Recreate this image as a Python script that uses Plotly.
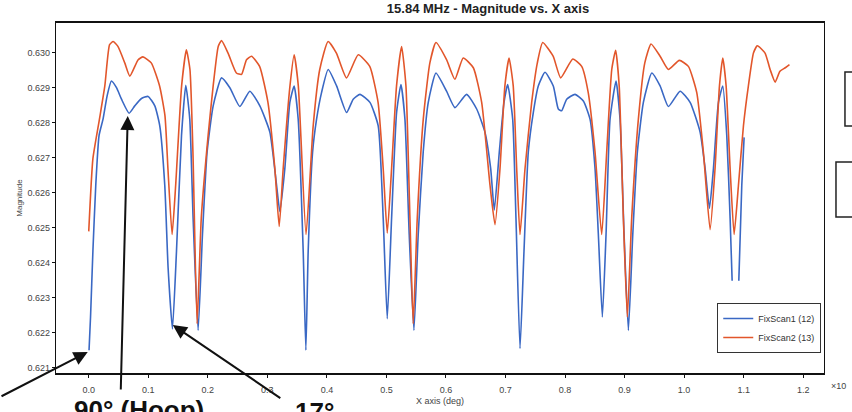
import plotly.graph_objects as go

# ---------------- data ----------------
scan1_name = "FixScan1 (12)"
scan2_name = "FixScan2 (13)"

scan1_x = [
    0.0005, 0.003, 0.007, 0.0118, 0.0173, 0.024, 0.0308, 0.038, 0.0466, 0.055,
    0.0678, 0.0773, 0.0886, 0.0997, 0.111, 0.1193, 0.1277, 0.1333, 0.1406, 0.1474,
    0.1558, 0.163, 0.1697, 0.1753, 0.1837, 0.191, 0.1988, 0.209, 0.223, 0.237,
    0.2538, 0.2706, 0.2874, 0.3042, 0.3155, 0.321, 0.3294, 0.3378, 0.345, 0.3518,
    0.3602, 0.3647, 0.3686, 0.376, 0.3827, 0.391, 0.4022, 0.4163, 0.4331, 0.4442,
    0.4555, 0.4723, 0.4862, 0.4946, 0.5014, 0.5087, 0.5171, 0.5244, 0.5311, 0.5383,
    0.5462, 0.5534, 0.5618, 0.5703, 0.5832, 0.601, 0.6151, 0.6347, 0.6516, 0.6655,
    0.6751, 0.6812, 0.6896, 0.6975, 0.7037, 0.7121, 0.7176, 0.7244, 0.7311, 0.7383,
    0.7467, 0.7551, 0.7664, 0.7803, 0.7887, 0.7944, 0.8028, 0.8168, 0.8308, 0.842,
    0.8504, 0.856, 0.8627, 0.8689, 0.8756, 0.8857, 0.8924, 0.8992, 0.9064, 0.9138,
    0.9215, 0.9316, 0.9457, 0.9597, 0.9736, 0.9933, 1.0101, 1.0269, 1.0353, 1.0426,
    1.0493, 1.0577, 1.065, 1.0717, 1.0773, 1.0807, 1.082, 1.0845, 1.0846, 1.086, 1.0919,
    1.0969, 1.1008,
]
scan1_y = [
    0.62149, 0.62244, 0.62433, 0.62621, 0.62763, 0.6281, 0.62876, 0.62919, 0.629, 0.62867,
    0.62827, 0.62848, 0.62869, 0.62875, 0.62848, 0.62791, 0.62621, 0.62385, 0.6221, 0.62433,
    0.62763, 0.62907, 0.6281, 0.62527, 0.62206, 0.6248, 0.62716, 0.62848, 0.62928, 0.629,
    0.62846, 0.6289, 0.62848, 0.62773, 0.62621, 0.62546, 0.62669, 0.62858, 0.62905, 0.6281,
    0.62433, 0.62149, 0.62433, 0.62716, 0.6281, 0.62886, 0.62952, 0.62905, 0.62829, 0.62867,
    0.62881, 0.62858, 0.62791, 0.62527, 0.62239, 0.62527, 0.62829, 0.62909, 0.6281, 0.6248,
    0.62206, 0.6248, 0.62716, 0.62858, 0.62942, 0.6289, 0.62843, 0.62881, 0.62839, 0.62773,
    0.62669, 0.6255, 0.62716, 0.62858, 0.62909, 0.6281, 0.62527, 0.62154, 0.62433, 0.62716,
    0.62829, 0.62905, 0.62944, 0.62905, 0.62839, 0.62834, 0.62867, 0.62881, 0.62862, 0.6281,
    0.62669, 0.6248, 0.62244, 0.6248, 0.6281, 0.62919, 0.6281, 0.6248, 0.62206, 0.6248,
    0.62716, 0.62858, 0.62942, 0.62905, 0.62846, 0.6289, 0.62858, 0.62773, 0.62669, 0.62555,
    0.62669, 0.62858, 0.62905, 0.62763, 0.62527, 0.62348, None, 0.62168, 0.6215, None, 0.62348,
    0.62621, 0.62758,
]

scan2_x = [
    0.000, 0.007, 0.018, 0.027, 0.035, 0.041, 0.049, 0.0605, 0.069, 0.083,
    0.091, 0.105, 0.119, 0.128, 0.133, 0.140, 0.146, 0.156, 0.164, 0.170,
    0.175, 0.182, 0.189, 0.2005, 0.209, 0.2175, 0.223, 0.234, 0.248, 0.2566,
    0.265, 0.2734, 0.287, 0.301, 0.3126, 0.3199, 0.3266, 0.338, 0.345, 0.352,
    0.365, 0.377, 0.388, 0.402, 0.416, 0.433, 0.4526, 0.472, 0.486, 0.4946,
    0.5014, 0.5087, 0.517, 0.5255, 0.5328, 0.5395, 0.545, 0.5518, 0.5619, 0.573,
    0.5832, 0.601, 0.615, 0.629, 0.646, 0.660, 0.674, 0.6824, 0.6908, 0.699,
    0.706, 0.713, 0.7188, 0.7244, 0.7328, 0.744, 0.7535, 0.7625, 0.780, 0.7927,
    0.813, 0.828, 0.839, 0.8504, 0.8616, 0.870, 0.8785, 0.885, 0.891, 0.898,
    0.9047, 0.912, 0.9232, 0.934, 0.9445, 0.9597, 0.9736, 0.992, 1.0072, 1.0213,
    1.0324, 1.0437, 1.052, 1.0594, 1.065, 1.0706, 1.0773, 1.084, 1.0913, 1.0997,
    1.108, 1.1165, 1.123, 1.136, 1.1445, 1.153, 1.161, 1.170, 1.177,
]
scan2_y = [
    0.62489, 0.62697, 0.6281, 0.62905, 0.63023, 0.63032, 0.63018, 0.62971, 0.62933, 0.6298,
    0.62988, 0.62971, 0.62905, 0.6282, 0.62669, 0.6248, 0.62621, 0.62905, 0.63008, 0.62952,
    0.62716, 0.62225, 0.62527, 0.62763, 0.62905, 0.63018, 0.63035, 0.62999, 0.62942, 0.62938,
    0.6298, 0.6299, 0.62961, 0.62858, 0.62669, 0.62503, 0.62669, 0.62905, 0.62994, 0.62905,
    0.6248, 0.62791, 0.62952, 0.63032, 0.62999, 0.62928, 0.62994, 0.62961, 0.62858, 0.62669,
    0.62484, 0.62669, 0.62905, 0.63018, 0.62905, 0.62527, 0.62225, 0.62527, 0.6281, 0.62971,
    0.63029, 0.6298, 0.62924, 0.62985, 0.62957, 0.62858, 0.62621, 0.62508, 0.62669, 0.62905,
    0.62985, 0.62905, 0.62669, 0.6248, 0.62669, 0.62858, 0.62971, 0.63029, 0.6299, 0.62928,
    0.62982, 0.62961, 0.62886, 0.62716, 0.6248, 0.62716, 0.62952, 0.63007, 0.62905, 0.62527,
    0.62244, 0.62527, 0.6281, 0.62971, 0.63025, 0.6299, 0.62952, 0.62978, 0.62961, 0.62886,
    0.62716, 0.62494, 0.62669, 0.62905, 0.62985, 0.62905, 0.62669, 0.6248, 0.62621, 0.62791,
    0.62905, 0.62999, 0.6302, 0.62999, 0.62952, 0.62916, 0.62947, 0.62957, 0.62966,
]

x_tick_vals = [0.0, 0.1, 0.2, 0.3, 0.4, 0.5, 0.6, 0.7, 0.8, 0.9, 1.0, 1.1, 1.2]
x_tick_text = ["0.0", "0.1", "0.2", "0.3", "0.4", "0.5", "0.6", "0.7", "0.8", "0.9", "1.0", "1.1", "1.2"]
y_tick_vals = [0.621, 0.622, 0.623, 0.624, 0.625, 0.626, 0.627, 0.628, 0.629, 0.630]
y_tick_text = ["0.621", "0.622", "0.623", "0.624", "0.625", "0.626", "0.627", "0.628", "0.629", "0.630"]

title_text = "15.84 MHz - Magnitude vs. X axis"
x_title = "X axis (deg)"
y_title = "Magnitude"
label_hoop = "90° (Hoop)"
label_17 = "17°"

# ---------------- figure ----------------
FONT = "Arial, 'Liberation Sans', sans-serif"
BLUE = "#3a68c4"
ORANGE = "#e2562b"

fig = go.Figure()
fig.add_trace(go.Scatter(x=scan1_x, y=scan1_y, mode="lines", name=scan1_name,
                         line=dict(color=BLUE, width=1.6, shape="spline", smoothing=0.5),
                         connectgaps=False))
fig.add_trace(go.Scatter(x=scan2_x, y=scan2_y, mode="lines", name=scan2_name,
                         line=dict(color=ORANGE, width=1.6, shape="spline", smoothing=0.5)))

fig.update_layout(
    template="none",
    width=852, height=412,
    margin=dict(l=56, r=28, t=23, b=39, autoexpand=False),
    paper_bgcolor="white", plot_bgcolor="white",
    font=dict(family=FONT, size=9, color="#444"),
    title=dict(text="<b>" + title_text + "</b>", font=dict(size=13, color="#222"),
               xref="paper", x=0.5625, xanchor="center",
               yref="container", y=0.979, yanchor="middle"),
    showlegend=True,
    legend=dict(x=0.861, y=0.2, xanchor="left", yanchor="top",
                bgcolor="white", bordercolor="#333", borderwidth=1,
                font=dict(size=9, color="#333"), itemwidth=30,
                tracegroupgap=0),
)

fig.update_xaxes(
    automargin=False,
    range=[-0.055, 1.235], tickvals=x_tick_vals, ticktext=x_tick_text,
    showgrid=False, zeroline=False, showline=True, linecolor="#111", linewidth=1.6,
    mirror=True, ticks="outside", ticklen=3, tickcolor="#111",
    ticklabelstandoff=4,
    title=dict(text=x_title, font=dict(size=9, color="#444"), standoff=4),
)
fig.update_yaxes(
    automargin=False,
    range=[0.62084, 0.63085], tickvals=y_tick_vals, ticktext=y_tick_text,
    showgrid=False, zeroline=False, showline=True, linecolor="#111", linewidth=1.2,
    mirror=True, ticks="outside", ticklen=3, tickcolor="#111",
    title=dict(text=y_title, font=dict(size=8, color="#444"), standoff=3),
)

# arrows pointing at features of the curves
arrow_style = dict(showarrow=True, arrowhead=2, arrowsize=1.4, arrowwidth=2,
                   arrowcolor="#111", text="", xref="x", yref="y")
fig.add_annotation(x=-0.0017, y=0.62144, ax=-88, ay=45, **arrow_style)
fig.add_annotation(x=0.0655, y=0.62819, ax=-7, ay=275, **arrow_style)
fig.add_annotation(x=0.1412, y=0.62221, ax=109, ay=74, **arrow_style)

# bottom labels
fig.add_annotation(text="<b>" + label_hoop + "</b>", xref="paper", yref="paper",
                   x=0.0208, y=-0.058, xanchor="left", yanchor="top", showarrow=False,
                   font=dict(size=26, color="#111", family=FONT))
fig.add_annotation(text="<b>" + label_17 + "</b>", xref="paper", yref="paper",
                   x=0.3086, y=-0.064, xanchor="left", yanchor="top", showarrow=False,
                   font=dict(size=26, color="#111", family=FONT))
fig.add_annotation(text="×10", xref="paper", yref="paper", x=1.006, y=-0.037,
                   xanchor="left", yanchor="middle", showarrow=False,
                   font=dict(size=9, color="#444"))

# partial boxes at the right edge
fig.add_shape(type="rect", xref="paper", yref="paper", x0=1.0273, x1=1.2,
              y0=0.7057, y1=0.86, line=dict(color="#222", width=1.5))
fig.add_shape(type="rect", xref="paper", yref="paper", x0=1.0156, x1=1.2,
              y0=0.4457, y1=0.6029, line=dict(color="#222", width=1.5))

fig.write_html(
    "out.html",
    config={"displayModeBar": False},
    post_script="document.body.style.margin='0px';document.body.style.overflow='hidden';",
)
